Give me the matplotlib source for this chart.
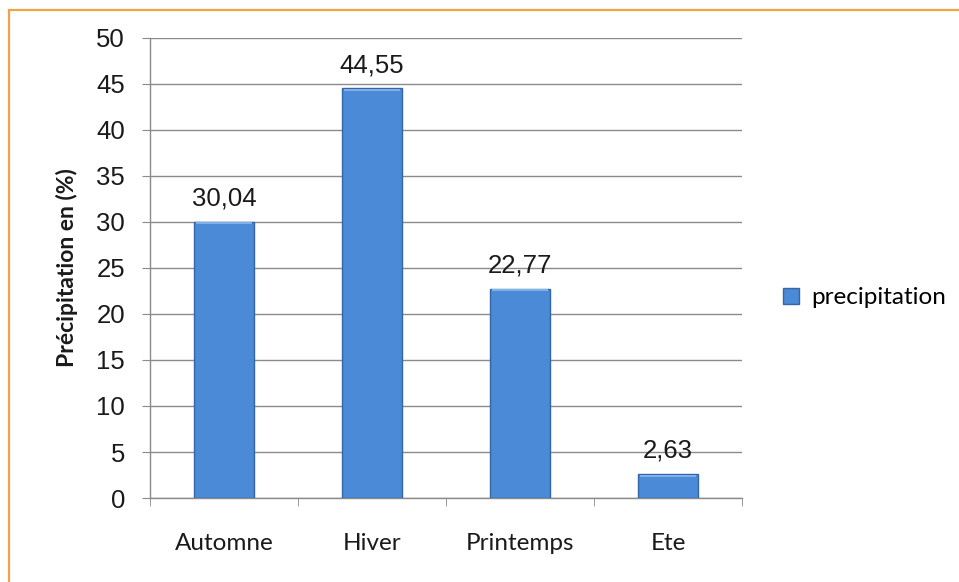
import matplotlib.pyplot as plt
import matplotlib.patches as patches
import numpy as np

# Répartition saisonnière des précipitations
saisons = ['Automne', 'Hiver', 'Printemps', 'Ete']
precipitation = [30.04, 44.55, 22.77, 2.63]
etiquettes = ['30,04', '44,55', '22,77', '2,63']

W, H = 959, 582
fig = plt.figure(figsize=(W / 100, H / 100), dpi=100)
fig.patch.set_facecolor('white')

ax = fig.add_axes([150 / W, 1 - 498 / H, 592 / W, 460 / H])
x = np.arange(len(saisons))

bleu = '#4a8ad6'
barres = ax.bar(x, precipitation, width=0.405, color=bleu,
                edgecolor='#3466a8', linewidth=1.0, zorder=3)

# liseré clair en haut de chaque barre (effet Excel)
for b in barres:
    ax.add_patch(patches.Rectangle((b.get_x() + 0.01, b.get_height() - 0.3),
                                   b.get_width() - 0.02, 0.22,
                                   facecolor='#7fb0e6', edgecolor='none', zorder=4))

for xi, v, txt in zip(x, precipitation, etiquettes):
    ax.annotate(txt, (xi, v), xytext=(0, 11.5), textcoords='offset points',
                ha='center', va='baseline', fontsize=18.5,
                family='Liberation Sans', color='#1a1a1a')

ax.set_xlim(-0.5, 3.5)
ax.set_ylim(0, 50)
ax.set_yticks(range(0, 51, 5))
ax.yaxis.grid(True, color='#8a8a8a', linewidth=1.0, zorder=0)
ax.set_axisbelow(True)

ax.set_xticks(x)
ax.set_xticklabels(saisons, fontsize=17.5, family='Lato', color='#1a1a1a')
ax.set_xticks(np.arange(-0.5, 3.6, 1), minor=True)
ax.tick_params(axis='x', which='major', length=0, pad=25)
ax.tick_params(axis='x', which='minor', length=6, color='#8a8a8a', direction='out')
ax.tick_params(axis='y', length=6, color='#8a8a8a', pad=12, labelsize=18.5)
for lab in ax.get_yticklabels():
    lab.set_family('Liberation Sans')
    lab.set_color('#1a1a1a')

for s in ['top', 'right']:
    ax.spines[s].set_visible(False)
for s in ['left', 'bottom']:
    ax.spines[s].set_color('#8a8a8a')
    ax.spines[s].set_linewidth(1.0)

ax.set_ylabel('Précipitation en (%)', fontsize=16.5, fontweight='bold',
              family='Lato', color='#1a1a1a', labelpad=13)

# légende
poignee = patches.Patch(facecolor=bleu, edgecolor='#3466a8', label='precipitation')
leg = fig.legend(handles=[poignee], loc='center left',
                 bbox_to_anchor=(761 / W, 1 - 298 / H), frameon=False,
                 prop={'family': 'Lato', 'size': 17.5},
                 handlelength=0.65, handleheight=0.65, handletextpad=0.5)

# cadre orange autour du graphique
fig.add_artist(patches.Rectangle((8.5 / W, -0.05), 1.2, 1 - 9.5 / H + 0.05,
                                 transform=fig.transFigure, fill=False,
                                 edgecolor='#f0a447', linewidth=1.6))

fig.savefig('out.png', dpi=100)
